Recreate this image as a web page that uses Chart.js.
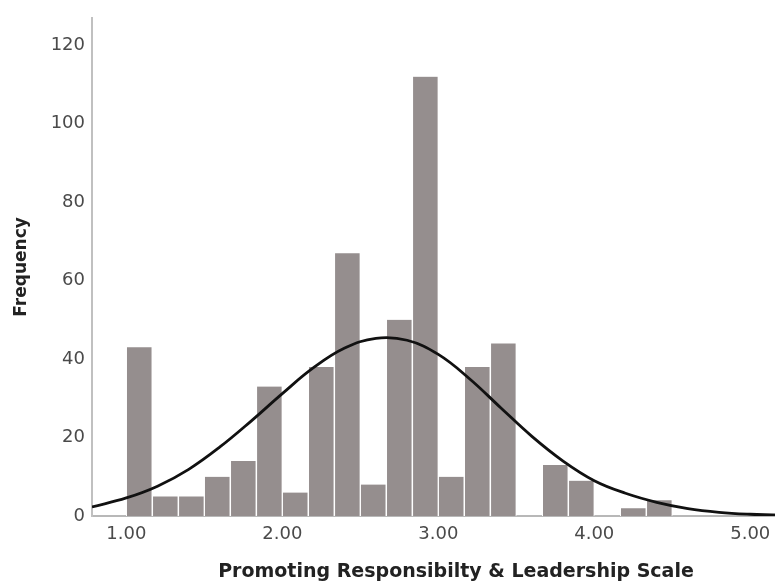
<!DOCTYPE html>
<html>
<head>
<meta charset="utf-8">
<script src="https://cdn.jsdelivr.net/npm/chart.js@4/dist/chart.umd.min.js"></script>
<style>
  html, body { margin: 0; padding: 0; background: #ffffff; overflow: hidden; }
  #wrap { width: 820px; height: 582px; position: relative; }
</style>
</head>
<body>
<div id="wrap"><canvas id="hist"></canvas></div>
<script>
// Histogram bins (midpoints, width 1/6) and their frequencies
const binMidpoints = [1.083, 1.250, 1.417, 1.583, 1.750, 1.917, 2.083, 2.250, 2.417, 2.583,
                      2.750, 2.917, 3.083, 3.250, 3.417, 3.583, 3.750, 3.917, 4.083, 4.250, 4.417];
const frequencies  = [43, 5, 5, 10, 14, 33, 6, 38, 67, 8,
                      50, 112, 10, 38, 44, 0, 13, 9, 0, 2, 4];

// Fitted normal curve, sampled along the scale
const curveX = [0.78, 1.00, 1.20, 1.40, 1.60, 1.80, 2.00, 2.20, 2.40, 2.60, 2.80, 3.00,
                3.20, 3.40, 3.60, 3.80, 4.00, 4.20, 4.40, 4.60, 4.80, 5.00, 5.20, 5.45];
const curveY = [2.3, 4.6, 7.6, 11.9, 17.6, 24.2, 31.2, 37.8, 42.8, 45.3, 44.8, 41.2,
                35.0, 27.6, 20.3, 14.0, 9.0, 5.8, 3.5, 1.9, 0.95, 0.45, 0.2, 0.08];

// Axis ticks
const xTicks = [1, 2, 3, 4, 5];
const yTicks = [0, 20, 40, 60, 80, 100, 120];

const xTitle = 'Promoting Responsibilty & Leadership Scale';
const yTitle = 'Frequency';

const barData = binMidpoints.map((x, i) => ({ x: x, y: frequencies[i] }));
const curveData = curveX.map((x, i) => ({ x: x, y: curveY[i] }));

const FONT = '"DejaVu Sans", "Lucida Grande", sans-serif';

new Chart(document.getElementById('hist'), {
  data: {
    datasets: [
      {
        type: 'line',
        data: curveData,
        borderColor: '#111111',
        borderWidth: 2.8,
        pointRadius: 0,
        tension: 0.4,
        fill: false,
        order: 0
      },
      {
        type: 'bar',
        data: barData,
        backgroundColor: '#958e8e',
        borderColor: '#ffffff',
        borderWidth: { left: 1, right: 1, top: 0, bottom: 0 },
        borderSkipped: false,
        barPercentage: 1.0,
        categoryPercentage: 1.0,
        order: 1
      }
    ]
  },
  options: {
    responsive: true,
    maintainAspectRatio: false,
    animation: false,
    layout: { padding: { top: 13, right: 0, bottom: 0, left: 0 } },
    plugins: {
      legend: { display: false },
      tooltip: { enabled: false }
    },
    scales: {
      x: {
        type: 'linear',
        min: 0.78,
        max: 5.447,
        offset: false,
        grid: { display: false, drawTicks: false },
        border: { display: true, color: '#b8b8b8', width: 2 },
        afterBuildTicks: (scale) => { scale.ticks = xTicks.map(v => ({ value: v })); },
        afterFit: (scale) => { scale.height = 66; },
        ticks: {
          padding: 8,
          color: '#4a4a4a',
          font: { family: FONT, size: 18 },
          maxRotation: 0,
          autoSkip: false,
          callback: (v) => Number(v).toFixed(2)
        },
        title: {
          display: true,
          text: xTitle,
          color: '#222222',
          font: { family: FONT, size: 19, weight: 'bold', lineHeight: 1.0 },
          padding: { top: 0, bottom: 0 }
        }
      },
      y: {
        min: 0,
        max: 127,
        grid: { display: false, drawTicks: false },
        border: { display: true, color: '#c0c0c0', width: 2 },
        afterBuildTicks: (scale) => { scale.ticks = yTicks.map(v => ({ value: v })); },
        afterFit: (scale) => { scale.width = 92; },
        ticks: {
          padding: 7,
          color: '#4a4a4a',
          font: { family: FONT, size: 18 }
        },
        title: {
          display: true,
          text: yTitle,
          color: '#222222',
          font: { family: FONT, size: 17, weight: 'bold', lineHeight: 1.0 },
          padding: { top: 13, bottom: 0 }
        }
      }
    }
  }
});
</script>
</body>
</html>
